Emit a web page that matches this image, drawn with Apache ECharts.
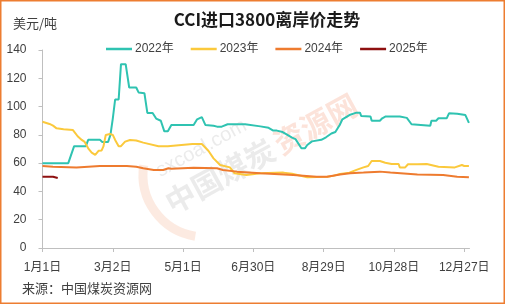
<!DOCTYPE html>
<html>
<head>
<meta charset="utf-8">
<script src="https://cdn.jsdelivr.net/npm/echarts@6/dist/echarts.min.js"></script>
<style>html,body{margin:0;padding:0;background:#fff}#c{width:505px;height:304px}</style>
</head>
<body>
<div id="c"></div>
<script>
// Day of year (0 = 1月1日) and price (USD/t)
const days2022 = [0,22,27,37,39,49,51,56,58,60,62,65,67,71,74,80,82,87,89.5,94,97,101,104,107,110,129,132,136,139,146,149,153,158,173,186,193,197,200,201,205,208,213,216,221,224,226,230,238,242,246.6,250,253.7,256,262,268,271,272,280,281,288,290,293,305,311,315,331,332,336,338,345,347,354,361,364];
const vals2022 = [60,60,72,72,76.5,76.5,75,75,80,91.5,105,105,130,130,113.5,113.5,110,109.5,95.5,95.5,91.5,90,82.5,82.5,87,87,91,92.5,87,86.5,85.8,85.8,87.5,87.5,86,85,83,83,84,82,80.5,78,77,70.5,70.5,72.8,75.4,76.5,78.3,81,82,87,91,94,95.7,95.7,93.4,93,90,90,91.7,93,93,92,87.5,86.5,90,90,91.7,91.7,95.2,95,94,88.5];
const days2023 = [0,6,9,12,18,19,26,30,33.5,36,39,42,45,48,50.5,52,54,57.6,60,62,65,67,70.5,74.7,80,86,99,107,128,136,141.6,146,151.6,160,164,174,186,205.7,213,226,243,248,254,262,268,274,278,281,288,292.6,298,304,305,309.6,312,320,328,338,352,358,360,364];
const vals2023 = [89.3,87.7,86.5,84.6,84,83.4,83.4,79,76.4,75,70.5,67.4,65.8,68.8,69,71.8,79.9,80.6,80,76.4,72,72,75.2,76.4,76,74.5,72,72,73.5,73.5,68.8,63.4,58.7,57,52.8,51.6,52.8,53.3,52.5,50,50.4,51,52.3,53.3,55.2,57,58,61.5,61.5,60.3,59.4,59.4,57,57,59.2,59.2,59.4,57.5,57,58.7,58,58];
const days2024 = [0,9,29,49,72,80,86,95,103,107.5,110,129,149,154,166,186,214,234,243,254,262.6,274,288,297,320,342,354,364];
const vals2024 = [58,57.5,57,58,58,57.5,56.4,55.2,55.2,56.4,56,56.8,56.4,55.2,54,52.8,51.6,50.4,50.4,52,52.8,53.3,54,53.3,52,51.6,50.4,50];
const days2025 = [0,9,13];
const vals2025 = [50.4,50.4,49.5];

const seriesNames = ['2022年','2023年','2024年','2025年'];
const tickDays = [0,60,120,180,240,300,360];
const tickLabels = ['1月1日','3月2日','5月1日','6月30日','8月29日','10月28日','12月27日'];

const colors = ['#2FC3B1','#FBC93C','#EE7B2F','#8E1010'];
const allDays = [days2022, days2023, days2024, days2025];
const allVals = [vals2022, vals2023, vals2024, vals2025];

const FONT = "'Liberation Sans','Noto Sans CJK SC',sans-serif";
const CJK = "'Noto Sans CJK SC',sans-serif";

const chart = echarts.init(document.getElementById('c'), null, {renderer:'canvas'});
const series = seriesNames.map((n,i)=>({
  name:n, type:'line', showSymbol:false, symbol:'none', z:3,
  lineStyle:{color:colors[i], width:2},
  itemStyle:{color:colors[i]},
  data: allDays[i].map((d,k)=>[d, allVals[i][k]])
}));

chart.setOption({
  animation:false,
  backgroundColor:'#fff',
  title:{
    text:'CCI进口3800离岸价走势', left:262, top:6, textAlign:'center',
    textStyle:{fontFamily:CJK, fontSize:17, fontWeight:'bold', color:'#1a1a1a'}
  },
  legend:{
    left:101, top:38, icon:'rect', itemWidth:26, itemHeight:2.5, itemGap:17,
    data:seriesNames,
    textStyle:{fontFamily:FONT, fontSize:12, color:'#404040', padding:[0,0,0,-2]}
  },
  grid:{left:42.5, right:35.5, top:50, bottom:56},
  xAxis:{
    type:'value', min:0, max:364.5,
    axisLine:{show:true, lineStyle:{color:'#BFBFBF', width:1}},
    axisTick:{show:true, length:4, lineStyle:{color:'#BFBFBF'}, customValues:tickDays},
    axisLabel:{customValues:tickDays, margin:14, fontFamily:FONT, fontSize:12, color:'#404040',
      formatter:(v)=>{const i=tickDays.indexOf(Math.round(v)); return i>=0?tickLabels[i]:'';}},
    splitLine:{show:false}
  },
  yAxis:{
    type:'value', min:0, max:140, interval:20,
    axisLine:{show:true, lineStyle:{color:'#BFBFBF', width:1}},
    axisTick:{show:true, length:4, lineStyle:{color:'#BFBFBF'}},
    axisLabel:{margin:16, fontFamily:FONT, fontSize:12, color:'#404040'},
    splitLine:{show:false}
  },
  graphic:[
    {type:'rect', z:0, shape:{x:0.75,y:0.75,width:503.5,height:302.5}, style:{fill:null, stroke:'#ED7D31', lineWidth:1.5}},
    {type:'text', left:13, top:17, style:{text:'美元/吨', font:"13px "+CJK, fill:'#404040'}},
    {type:'text', left:22, top:282, style:{text:'来源：中国煤炭资源网', font:"13px "+CJK, fill:'#404040'}},
    {type:'arc', z:0, shape:{cx:205, cy:175, r:62, startAngle:Math.PI*0.55, endAngle:Math.PI*1.05}, style:{stroke:'#F6B89A', lineWidth:9, fill:null, opacity:0.3}},
    {type:'group', x:266, y:152, rotation:0.5, z:0, children:[
      {type:'text', x:-112, y:-16, style:{text:'中国煤炭', font:"bold 30px "+CJK, fill:'#BDBDBD', opacity:0.3}},
      {type:'text', x:12, y:-16, style:{text:'资源网', font:"bold 30px "+CJK, fill:'#F4A184', opacity:0.3}},
      {type:'text', x:-105, y:-44, style:{text:'sxcoal.com', font:"20px 'Liberation Sans',sans-serif", fill:'#BDBDBD', opacity:0.3}}
    ]}
  ],
  series:series
});
</script>
</body>
</html>
